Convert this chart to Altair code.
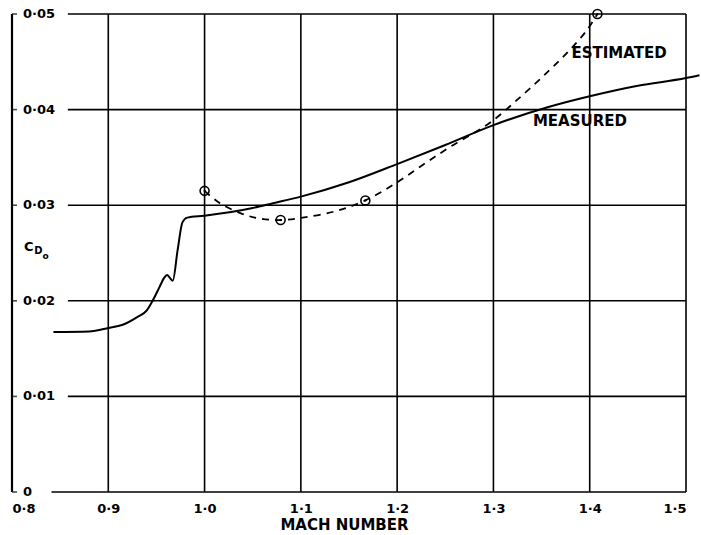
import altair as alt
import pandas as pd

# Zero-lift drag coefficient against Mach number
measured_mach = [0.843, 0.880, 0.900, 0.915, 0.930, 0.940, 0.946, 0.953, 0.958, 0.961,
                 0.964, 0.967, 0.972, 0.977, 0.982, 1.000, 1.050, 1.071, 1.100, 1.150,
                 1.200, 1.250, 1.298, 1.358, 1.400, 1.450, 1.500, 1.514]
measured_cd0 = [0.01674, 0.01680, 0.01715, 0.0175, 0.0183, 0.0190, 0.0200, 0.0214, 0.0224, 0.0227,
                0.0224, 0.0221, 0.0253, 0.0282, 0.0287, 0.0289, 0.0297, 0.0302, 0.0309, 0.0324,
                0.0343, 0.0363, 0.0383, 0.0403, 0.0414, 0.0425, 0.0433, 0.0436]

estimated_mach = [1.000, 1.016, 1.039, 1.057, 1.079, 1.102, 1.137, 1.167, 1.197, 1.225,
                  1.255, 1.296, 1.330, 1.358, 1.379, 1.397, 1.408]
estimated_cd0 = [0.0315, 0.0302, 0.0291, 0.0286, 0.02845, 0.0287, 0.0294, 0.0305, 0.0322, 0.0341,
                 0.0361, 0.0386, 0.0415, 0.0441, 0.0462, 0.0483, 0.0500]

# Calculated points on the estimated curve
point_mach = [1.000, 1.079, 1.167, 1.408]
point_cd0 = [0.0315, 0.02845, 0.0305, 0.0500]

x_ticks = [0.8, 0.9, 1.0, 1.1, 1.2, 1.3, 1.4, 1.5]
y_ticks = [0.0, 0.01, 0.02, 0.03, 0.04, 0.05]
y_tick_labels = ["0", "0·01", "0·02", "0·03", "0·04", "0·05"]

GRID_X0 = 0.858      # horizontal grid lines begin right of the value labels
BASE_X0 = 0.841      # the zero line begins a little further left
FONT = "DejaVu Sans"
WEIGHT = "bold"

xs = alt.Scale(domain=[0.8, 1.5], nice=False, zero=False)
ys = alt.Scale(domain=[0.0, 0.05], nice=False, zero=False)

hgrid = pd.DataFrame({
    "y": y_ticks,
    "x0": [BASE_X0] + [GRID_X0] * (len(y_ticks) - 1),
    "x1": [1.5] * len(y_ticks),
})
vgrid = pd.DataFrame({"x": x_ticks[1:], "y0": 0.0, "y1": 0.05})
left_axis = pd.DataFrame({"x": [0.8], "y0": [0.0], "y1": [0.05]})
ylabels = pd.DataFrame({"x": 0.8, "y": y_ticks, "label": y_tick_labels})
meas = pd.DataFrame({"mach": measured_mach, "cd0": measured_cd0})
est = pd.DataFrame({"mach": estimated_mach, "cd0": estimated_cd0})
pts = pd.DataFrame({"mach": point_mach, "cd0": point_cd0})

x_axis = alt.Axis(
    values=x_ticks, labelExpr="replace(format(datum.value, '.1f'), '.', '·')",
    domain=False, ticks=False, grid=False, labelFlush=True,
    labelFont=FONT, labelFontSize=13, labelFontWeight=WEIGHT, labelColor="black",
    labelPadding=10,
    title="MACH NUMBER", titleFont=FONT, titleFontSize=15, titleFontWeight=WEIGHT,
    titleColor="black", titlePadding=2, titleX=332, titleAlign="center",
)

h_lines = alt.Chart(hgrid).mark_rule(color="black", strokeWidth=1.6).encode(
    x=alt.X("x0:Q", scale=xs, axis=x_axis), x2="x1:Q",
    y=alt.Y("y:Q", scale=ys, axis=None),
)
v_lines = alt.Chart(vgrid).mark_rule(color="black", strokeWidth=1.6).encode(
    x=alt.X("x:Q", scale=xs), y=alt.Y("y0:Q", scale=ys), y2="y1:Q",
)
l_axis = alt.Chart(left_axis).mark_rule(color="black", strokeWidth=2.2).encode(
    x=alt.X("x:Q", scale=xs), y=alt.Y("y0:Q", scale=ys), y2="y1:Q",
)
l_ticks = alt.Chart(ylabels).mark_tick(
    color="black", orient="horizontal", size=5, thickness=1.6, xOffset=2.5
).encode(x=alt.X("x:Q", scale=xs), y=alt.Y("y:Q", scale=ys))
l_text = alt.Chart(ylabels).mark_text(
    align="left", baseline="middle", dx=11, font=FONT, fontSize=13,
    fontWeight=WEIGHT, color="black"
).encode(x=alt.X("x:Q", scale=xs), y=alt.Y("y:Q", scale=ys), text="label:N")

meas_line = alt.Chart(meas).mark_line(
    color="black", strokeWidth=2, interpolate="monotone", clip=False
).encode(x=alt.X("mach:Q", scale=xs), y=alt.Y("cd0:Q", scale=ys))
est_line = alt.Chart(est).mark_line(
    color="black", strokeWidth=1.8, strokeDash=[7, 6], interpolate="catmull-rom"
).encode(x=alt.X("mach:Q", scale=xs), y=alt.Y("cd0:Q", scale=ys))
circles = alt.Chart(pts).mark_point(
    shape="circle", filled=False, size=80, color="black", strokeWidth=1.6, opacity=1
).encode(x=alt.X("mach:Q", scale=xs), y=alt.Y("cd0:Q", scale=ys))
dots = alt.Chart(pts).mark_point(
    shape="circle", filled=True, size=5, color="black", opacity=1
).encode(x=alt.X("mach:Q", scale=xs), y=alt.Y("cd0:Q", scale=ys))

notes = pd.DataFrame({
    "x": [1.381, 1.341], "y": [0.0459, 0.0388], "label": ["ESTIMATED", "MEASURED"],
})
note_text = alt.Chart(notes).mark_text(
    align="left", baseline="middle", font=FONT, fontSize=15, fontWeight=WEIGHT,
    color="black"
).encode(x=alt.X("x:Q", scale=xs), y=alt.Y("y:Q", scale=ys), text="label:N")

# C_D0 symbol built from a letter, a subscript and a second-level subscript
sym = pd.DataFrame({
    "x": [0.8125, 0.8232, 0.8318],
    "y": [0.0256, 0.0252, 0.0247],
    "label": ["C", "D", "o"],
    "size": [13, 10, 9],
})
sym_text = alt.Chart(sym).mark_text(
    align="left", baseline="middle", font=FONT, fontWeight=WEIGHT, color="black"
).encode(
    x=alt.X("x:Q", scale=xs), y=alt.Y("y:Q", scale=ys), text="label:N",
    size=alt.Size("size:Q", scale=None, legend=None),
)

chart = alt.layer(
    h_lines, v_lines, l_axis, l_ticks, l_text, meas_line, est_line,
    circles, dots, note_text, sym_text,
).properties(
    width=674, height=478,
    autosize=alt.AutoSizeParams(type="none"),
    padding={"left": 12, "top": 14, "right": 15, "bottom": 43},
    background="white",
).configure_view(stroke=None)

chart.save("out.html", embed_options={"renderer": "svg", "actions": False})
